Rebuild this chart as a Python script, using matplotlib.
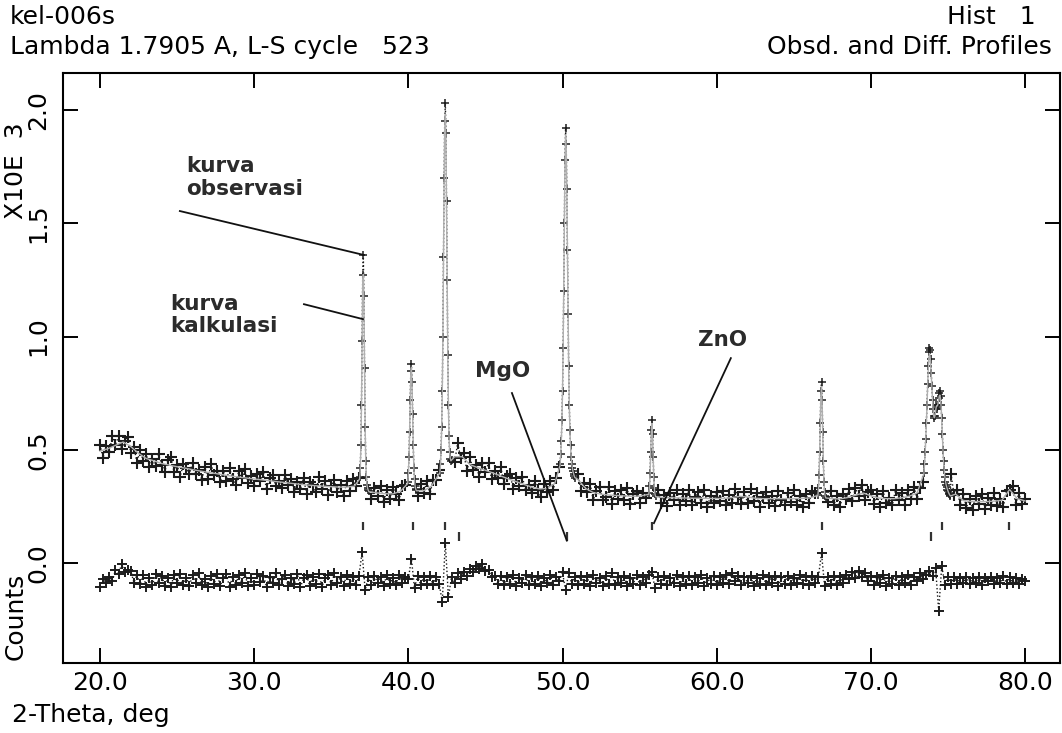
import numpy as np
import matplotlib
matplotlib.use('Agg')  # no display
import matplotlib.pyplot as plt

nan = float('nan')

# coarse 2-theta grid of the scan (deg): observed and difference points
tt_start = 20.0
tt_step = 0.2

# observed counts on the coarse grid (nan where the dense peak windows take over)
obs_counts = [
    523, 465, 517, 490, 560, 522, 560, 502, 540, 558,
    488, 515, 443, 500, 452, 483, 425, 458, 429, 480,
    435, 404, 454, 469, 403, 435, 382, 438, 420, 393,
    442, 395, 413, 367, 426, 372, 438, 390, 408, 360,
    408, 364, 421, 372, 346, 407, 375, 414, 355, 383,
    342, 392, 361, 402, 326, 376, 390, 342, 362, 331,
    391, 344, 372, 316, 357, 326, 377, 307, 359, 345,
    314, 381, 326, 363, 302, 343, 366, 316, 347, 295,
    361, 320, 373, 339, 375, nan, nan, nan, 285, 334,
    298, 343, 270, 325, 282, 336, 304, 279, 340, 345,
    nan, nan, nan, 295, 350, 310, 363, 305, 366, 367,
    410, nan, nan, nan, nan, 445, 530, 465, 488, 405,
    467, 410, 433, 382, 441, 404, 441, 372, 409, 374,
    423, 350, 385, 394, 329, 378, 343, 380, 323, 346,
    309, 364, 324, 292, 350, 315, 363, 325, 375, 425,
    nan, nan, nan, nan, nan, 395, 320, 353, 313, 348,
    278, 320, 335, 281, 294, 336, 262, 319, 284, 324,
    277, 330, 260, 304, 320, 268, 312, 290, nan, nan,
    nan, 322, 265, 300, 251, 311, 280, 322, 258, 304,
    276, 323, 255, 291, 313, 264, 324, 250, 298, 268,
    314, 276, 321, 256, 302, 268, 328, 294, 262, 316,
    266, 327, 273, 308, 249, 291, 315, 265, 295, 253,
    319, 277, 255, 309, 269, 323, 257, 298, 248, 305,
    266, 320, 310, nan, nan, nan, 272, 317, 257, 296,
    249, 305, 282, 328, 274, 333, 298, 346, 280, 313,
    324, 262, 304, 250, 317, 266, 290, 257, 324, 278,
    312, 258, 325, 282, 338, 282, 332, 360, nan, nan,
    nan, nan, nan, nan, nan, nan, 395, 300, 323, 258,
    306, 246, 285, 236, 298, 263, 305, 240, 290, 259,
    310, 251, 285, 250, 320, 325, 340, 258, 310, 262,
    285,
]

# difference curve as drawn below the pattern, same grid
diff_counts = [
    -105, -68, -88, -62, -78, -30, -48, -5, -38, -28,
    -35, -85, -50, -93, -53, -103, -65, -97, -49, -87,
    -55, -100, -67, -105, -51, -89, -47, -95, -63, -101,
    -51, -85, -45, -97, -69, -103, -57, -91, -48, -99,
    -65, -49, -105, -61, -95, -53, -87, -45, -101, -67,
    -97, -47, -83, -55, -103, -59, -89, -45, -95, -69,
    -51, -101, -63, -93, -47, -105, -67, -53, -99, -61,
    -91, -49, -103, -65, -51, -95, -45, -87, -59, -101,
    -50, -90, -60, -95, -55, 50, -120, -60, -95, -55,
    -85, -60, -100, -50, -90, -65, -95, -50, -85, -60,
    -70, 20, -110, -55, -95, -60, -90, -55, -95, -60,
    -90, -170, 90, -150, -60, -85, -45, -70, -40, -55,
    -25, -40, -10, -25, -5, -35, -30, -60, -55, -90,
    -55, -95, -60, -90, -50, -100, -65, -85, -50, -95,
    -60, -90, -55, -100, -65, -85, -50, -95, -60, -80,
    -40, -120, -45, -90, -60, -95, -55, -90, -60, -100,
    -50, -85, -65, -100, -55, -90, -45, -95, -60, -85,
    -55, -100, -65, -90, -50, -95, -60, -85, -50, -40,
    -110, -60, -90, -55, -95, -65, -85, -50, -100, -60,
    -90, -55, -95, -60, -85, -50, -100, -65, -90, -55,
    -95, -60, -85, -50, -90, -45, -80, -55, -95, -60,
    -85, -55, -100, -65, -90, -50, -95, -60, -85, -55,
    -100, -60, -90, -55, -95, -65, -85, -50, -90, -60,
    -95, -55, -85, -60, 45, -100, -60, -90, -55, -95,
    -60, -85, -50, -70, -40, -65, -35, -60, -45, -80,
    -55, -95, -60, -85, -50, -100, -65, -90, -55, -95,
    -60, -85, -50, -95, -60, -80, -45, -70, -50, -35,
    -55, -20, -210, -10, -95, -60, -90, -60, -90, -65,
    -85, -60, -90, -65, -85, -60, -95, -65, -80, -60,
    -90, -65, -85, -55, -90, -60, -85, -65, -90, -70,
    -80,
]

# calculated background/profile on a 0.5 deg grid (nan inside peak windows)
calc_start = 20.0
calc_step = 0.5
calc_bg = [
    495, 505, 520, 535, 515, 485, 462, 452, 440, 433,
    426, 420, 413, 407, 401, 396, 390, 385, 380, 376,
    372, 368, 364, 360, 356, 352, 348, 345, 342, 340,
    338, 336, 336, 340, nan, 315, 310, 307, 306, 318,
    nan, nan, 320, 340, 395, nan, 470, 470, 435, 422,
    410, 398, 385, 372, 360, 348, 336, 328, 330, 352,
    nan, nan, 370, 330, 312, 305, 301, 299, 297, 296,
    296, 303, nan, 290, 289, 288, 288, 287, 287, 286,
    286, 286, 290, 295, 292, 287, 285, 285, 285, 285,
    285, 286, 288, 298, nan, 285, 284, 290, 300, 310,
    298, 288, 285, 285, 289, 296, 310, nan, nan, nan,
    nan, 305, 277, 273, 272, 272, 274, 278, 325, 285,
    275,
]

# dense windows over the sharp reflections (0.04 deg apart)
win_step = 0.04
win_start = [36.84, 39.96, 42.04, 49.84, 55.60, 66.56, 73.44]
win_obs = [
    [380, 420, 520, 700, 980, 1270, 1360, 1180, 860, 600, 450, 380, 345, 330, 322, 318],
    [360, 400, 470, 580, 720, 850, 880, 800, 660, 520, 420, 370, 340, 328, 322],
    [400, 440, 500, 600, 760, 1000, 1350, 1700, 1950, 2030,
     1900, 1600, 1250, 920, 700, 560, 490, 460, 450, 455],
    [440, 480, 540, 630, 760, 950, 1200, 1500, 1780, 1920,
     1850, 1650, 1380, 1100, 870, 700, 590, 520, 470, 440, 420, 405, 395, 385, 378],
    [310, 340, 400, 490, 590, 630, 570, 470, 380, 330, 305, 295],
    [300, 330, 390, 490, 620, 760, 800, 720, 580, 450, 360, 315, 295, 288],
    [400, 440, 490, 550, 620, 700, 790, 870, 930, 950,
     940, 900, 840, 780, 720, 680, 650, 640, 650, 680,
     700, 690, 680, 700, 730, 750, 760, 740, 700, 640,
     570, 500, 450, 410, 380, 360, 345, 335, 325, 318,
     312, 305, 300, 296],
]
win_calc = [
    [372, 412, 505, 690, 960, 1230, 1275, 1150, 850, 595, 445, 378, 345, 330, 322, 316],
    [352, 395, 462, 572, 712, 835, 865, 790, 655, 515, 418, 368, 340, 327, 320],
    [395, 430, 490, 590, 745, 985, 1320, 1680, 1910, 1980,
     1870, 1580, 1240, 915, 695, 555, 488, 462, 452, 455],
    [432, 472, 532, 622, 752, 940, 1190, 1485, 1760, 1890,
     1830, 1640, 1370, 1095, 865, 698, 588, 518, 470, 440, 420, 405, 394, 385, 378],
    [305, 335, 392, 482, 580, 618, 562, 465, 378, 328, 304, 294],
    [296, 325, 382, 482, 612, 745, 780, 705, 572, 446, 358, 314, 295, 288],
    [395, 432, 482, 542, 612, 692, 775, 850, 905, 925,
     915, 878, 825, 768, 715, 675, 650, 642, 650, 670,
     690, 695, 695, 705, 722, 738, 742, 725, 690, 632,
     565, 498, 448, 410, 382, 362, 347, 336, 327, 319,
     312, 306, 301, 297],
]

# reflection markers (2-theta, deg)
zno_refl = [37.06, 40.30, 42.37, 55.80, 66.82, 74.60, 78.95]
mgo_refl = [43.28, 50.29, 73.89]

x_ticks = [20, 30, 40, 50, 60, 70, 80]
y_ticks = [0.0, 0.5, 1.0, 1.5, 2.0]

# --- assemble the series -------------------------------------------------
tt_grid = tt_start + tt_step * np.arange(len(obs_counts))
obs_grid = np.array(obs_counts, dtype=float)
keep = ~np.isnan(obs_grid)

tt_calc = calc_start + calc_step * np.arange(len(calc_bg))
calc_grid = np.array(calc_bg, dtype=float)
keep_c = ~np.isnan(calc_grid)

tt_win, y_win = [], []
tt_calc_all = [tt_calc[keep_c]]
y_calc_all = [calc_grid[keep_c]]
for start, o, c in zip(win_start, win_obs, win_calc):
    tw = start + win_step * np.arange(len(o))
    tt_win.append(tw)
    y_win.append(np.array(o, dtype=float))
    tt_calc_all.append(tw)
    y_calc_all.append(np.array(c, dtype=float))
tt_win = np.concatenate(tt_win)
y_win = np.concatenate(y_win) / 1000.0

tt_obs = np.concatenate([tt_grid[keep], tt_win])
y_obs = np.concatenate([obs_grid[keep] / 1000.0, y_win])
order = np.argsort(tt_obs)
tt_obs, y_obs = tt_obs[order], y_obs[order]

tt_c = np.concatenate(tt_calc_all)
y_c = np.concatenate(y_calc_all)
order = np.argsort(tt_c)
tt_c, y_c = tt_c[order], y_c[order] / 1000.0

y_diff = np.array(diff_counts, dtype=float) / 1000.0

# --- figure --------------------------------------------------------------
fig = plt.figure(figsize=(10.62, 7.33), dpi=100)
ax = fig.add_axes([63 / 1062, 70 / 733, 997 / 1062, 590 / 733])

ink = '#1c1c1c'
ax.plot(tt_obs, y_obs, ls=':', lw=1.0, color=ink)
ax.plot(tt_grid[keep], obs_grid[keep] / 1000.0, ls='none', marker='+',
        ms=8.5, mew=1.5, color=ink)
ax.plot(tt_win, y_win, ls='none', marker='+', ms=5.5, mew=1.1, color=ink)
ax.plot(tt_c, y_c, lw=1.0, color='#b0b0b0')

ax.plot(tt_grid, y_diff, ls=':', lw=1.0, color=ink)
ax.plot(tt_grid, y_diff, ls='none', marker='+', ms=7, mew=1.4, color=ink)

ax.vlines(zno_refl, 0.146, 0.181, color='#333333', lw=1.6)
ax.vlines(mgo_refl, 0.100, 0.137, color='#333333', lw=1.6)

# annotations
note = dict(fontsize=15.5, fontweight='bold', color='#2b2b2b', family='DejaVu Sans',
            linespacing=1.15)
ax.text(25.58, 1.795, 'kurva\nobservasi', ha='left', va='top', **note)
ax.text(24.54, 1.19, 'kurva\nkalkulasi', ha='left', va='top', **note)
ax.text(44.32, 0.893, 'MgO', ha='left', va='top', **note)
ax.text(58.78, 1.03, 'ZnO', ha='left', va='top', **note)

ax.plot([25.18, 37.12], [1.554, 1.36], color='#111111', lw=1.3)
ax.plot([33.23, 37.06], [1.143, 1.077], color='#111111', lw=1.3)
ax.plot([46.72, 50.28], [0.751, 0.10], color='#111111', lw=1.3)
ax.plot([60.92, 55.93], [0.905, 0.177], color='#111111', lw=1.3)

# axes
ax.set_xlim(17.6, 82.27)
ax.set_ylim(-0.44, 2.163)
ax.set_xticks(x_ticks)
ax.set_xticklabels([f'{v:.1f}' for v in x_ticks])
ax.set_yticks(y_ticks)
ax.set_yticklabels([f'{v:.1f}' for v in y_ticks], rotation=90, va='center')
ax.tick_params(direction='in', length=10.8, width=1.4, top=True, right=True,
               labelsize=18, colors='black')
ax.tick_params(axis='x', pad=6)
ax.tick_params(axis='y', pad=9)
for s in ax.spines.values():
    s.set_linewidth(1.5)

txt = dict(fontsize=18, color='black')
fig.text(10 / 1062, 1 - 17 / 733, 'kel-006s', ha='left', va='center', **txt)
fig.text(10 / 1062, 1 - 47 / 733, 'Lambda 1.7905 A, L-S cycle   523',
         ha='left', va='center', **txt)
fig.text(1036 / 1062, 1 - 17 / 733, 'Hist   1', ha='right', va='center', **txt)
fig.text(1052 / 1062, 1 - 47 / 733, 'Obsd. and Diff. Profiles',
         ha='right', va='center', **txt)
fig.text(12 / 1062, 1 - 715 / 733, '2-Theta, deg', ha='left', va='center', **txt)
fig.text(16 / 1062, 1 - 171 / 733, 'X10E  3', rotation=90, ha='center', va='center', **txt)
fig.text(16 / 1062, 1 - 616 / 733, 'Counts', rotation=90, ha='center', va='center', **txt)

fig.savefig('out.png', dpi=100)
plt.close(fig)
